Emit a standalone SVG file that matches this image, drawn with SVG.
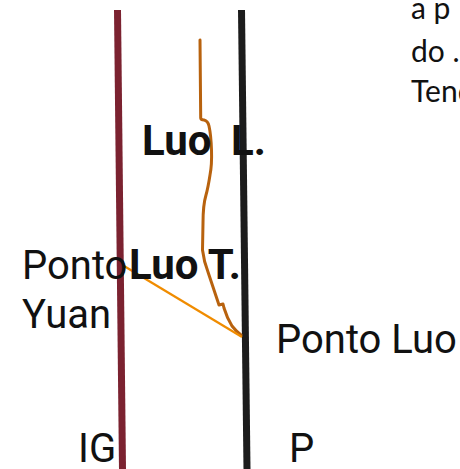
<svg xmlns="http://www.w3.org/2000/svg" width="460" height="469" viewBox="0 0 460 469">
<style>
.t{font-family:Roboto,"Liberation Sans",sans-serif;font-size:40px;fill:#111}
.b{font-weight:bold;font-size:42px}
.s{font-family:Lato,"Open Sans",sans-serif;font-size:30px;fill:#111}
</style>
<rect width="460" height="469" fill="#fff"/>
<g id="connectors">
<line x1="117.5" y1="10" x2="122.5" y2="469" stroke="#7b2230" stroke-width="7"/>
<line x1="241.5" y1="10" x2="247" y2="469" stroke="#1c1c1c" stroke-width="7"/>
<path d="M200,40 L200.7,118 Q201,120 204,120 Q208,121 209,126 Q211,135 211.5,150 Q212,165 210,175 Q208,188 206,195 Q203,205 203,223 L202.5,250 Q204,262 208,272 L215,293 L219,305 L223,304 L224,308 Q227,318 232,326 Q236,331 241,335" fill="none" stroke="#b8620e" stroke-width="3" stroke-linejoin="round" stroke-linecap="round"/>
<line x1="124" y1="266" x2="242" y2="337" stroke="#f08c00" stroke-width="2.2"/>
</g>
<g id="luo-l"><text class="t b" x="142" y="155">Luo</text><text class="t b" x="231" y="155">L.</text></g>
<g id="ponto-yuan"><text class="t" x="22" y="279">Ponto</text><text class="t" x="22" y="328">Yuan</text></g>
<g id="luo-t"><text class="t b" x="129" y="279">Luo T.</text></g>
<g id="ponto-luo"><text class="t" x="276" y="353">Ponto Luo</text></g>
<g id="ig"><text class="t" x="78" y="462">IG</text></g>
<g id="p"><text class="t" x="289" y="462">P</text></g>
<g id="note"><text class="s" x="411" y="19">a p</text><text class="s" x="411" y="62">do .</text><text class="s" x="411" y="102">Tend</text></g>
</svg>
